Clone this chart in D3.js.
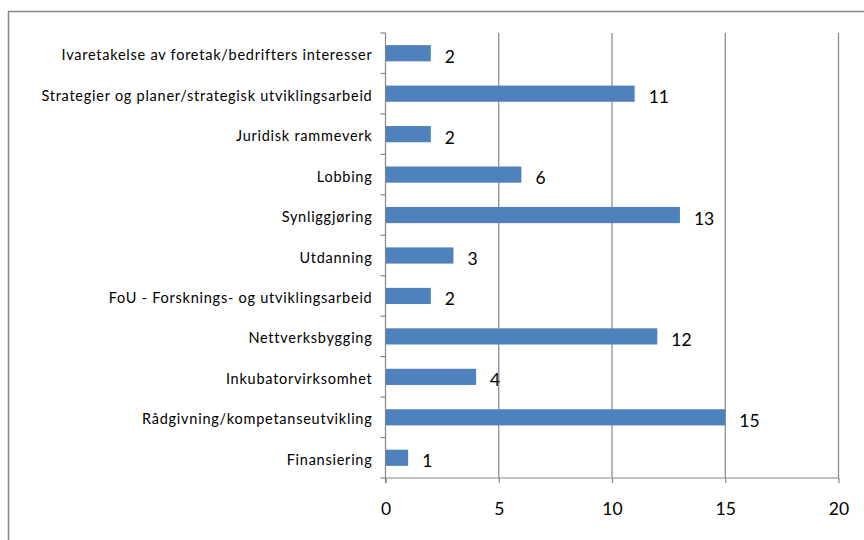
<!DOCTYPE html>
<html><head><meta charset="utf-8">
<script src="https://cdn.jsdelivr.net/npm/d3@7"></script>
<style>
body{margin:0;background:#fff;}
svg{display:block;font-family:Lato,"Open Sans",sans-serif;}
</style></head>
<body><svg id="c" width="864" height="540"></svg>
<script>
const categories = [
  "Ivaretakelse av foretak/bedrifters interesser",
  "Strategier og planer/strategisk utviklingsarbeid",
  "Juridisk rammeverk",
  "Lobbing",
  "Synliggjøring",
  "Utdanning",
  "FoU - Forsknings- og utviklingsarbeid",
  "Nettverksbygging",
  "Inkubatorvirksomhet",
  "Rådgivning/kompetanseutvikling",
  "Finansiering"
];
const values = [2, 11, 2, 6, 13, 3, 2, 12, 4, 15, 1];
const xTicks = [0, 5, 10, 15, 20];

const svg = d3.select("#c");
const grey = "#868686";

// outer chart border
svg.append("rect").attr("x", 8.5).attr("y", 11.5).attr("width", 900).attr("height", 600)
  .attr("fill", "none").attr("stroke", grey).attr("stroke-width", 1.5);

const L = 385.5, R = 838.5, T = 33, B = 478;
const x = d3.scaleLinear().domain([0, 20]).range([L, R]);
const y = d3.scaleBand().domain(categories).range([T, B]).paddingInner(0.6).paddingOuter(0.3);

// gridlines
svg.append("g").selectAll("line").data(xTicks.slice(1)).join("line")
  .attr("x1", d => x(d)).attr("x2", d => x(d)).attr("y1", T).attr("y2", B)
  .attr("stroke", grey).attr("stroke-width", 1.2);

// bars
svg.append("g").selectAll("rect").data(values).join("rect")
  .attr("x", x(0)).attr("y", (d, i) => y(categories[i]))
  .attr("width", d => x(d) - x(0)).attr("height", y.bandwidth())
  .attr("fill", "#4F81BD");

// value labels
svg.append("g").selectAll("text").data(values).join("text")
  .attr("x", d => x(d) + 14).attr("y", (d, i) => y(categories[i]) + y.bandwidth() / 2 + 9.5)
  .attr("font-size", 17.5).attr("fill", "#000").text(d => d);

// y axis
const step = (B - T) / categories.length;
const yg = svg.append("g");
yg.append("line").attr("x1", L).attr("x2", L).attr("y1", T).attr("y2", B + 5)
  .attr("stroke", grey).attr("stroke-width", 1.2);
yg.selectAll("line.tk").data(d3.range(categories.length + 1)).join("line").attr("class", "tk")
  .attr("x1", L - 5).attr("x2", L).attr("y1", i => T + i * step).attr("y2", i => T + i * step)
  .attr("stroke", grey).attr("stroke-width", 1.2);
yg.selectAll("text").data(categories).join("text")
  .attr("x", L - 13).attr("y", d => y(d) + y.bandwidth() / 2 + 7)
  .attr("text-anchor", "end").attr("font-size", 14.5).attr("letter-spacing", 0.75)
  .attr("fill", "#000").text(d => d);

// x axis
const xAxis = d3.axisBottom(x).tickValues(xTicks).tickSize(5);
const xg = svg.append("g").attr("transform", `translate(0,${B})`).call(xAxis);
xg.select(".domain").attr("stroke", grey).attr("stroke-width", 1.2).attr("d", `M${L},0H${R}`);
xg.selectAll(".tick line").attr("stroke", grey).attr("stroke-width", 1.2);
xg.selectAll(".tick text").attr("font-size", 17.5).attr("font-family", "Lato,'Open Sans',sans-serif")
  .attr("fill", "#000").attr("dy", null).attr("y", 37);
</script></body></html>
